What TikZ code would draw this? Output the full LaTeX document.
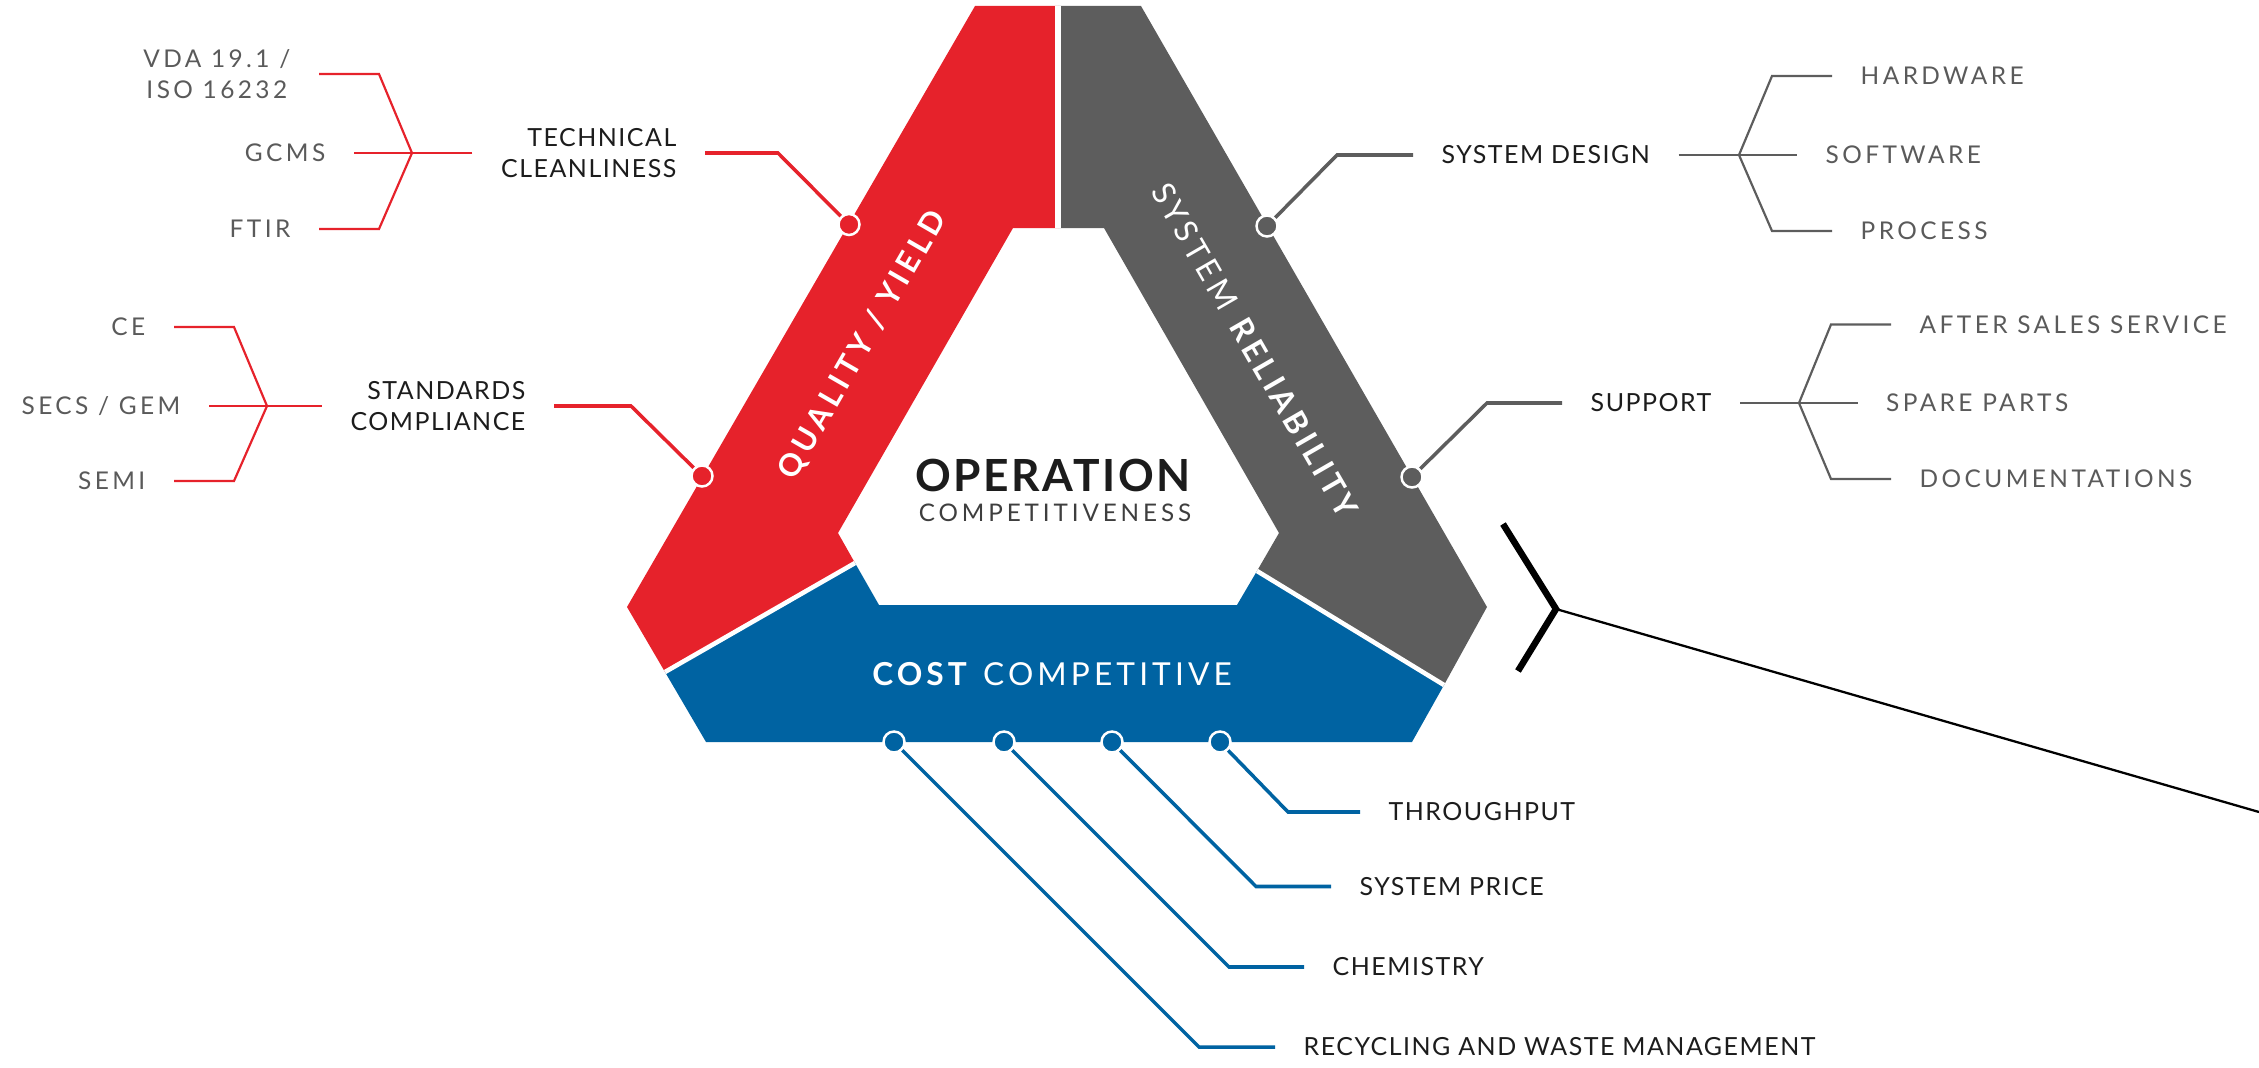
\documentclass[tikz,border=0pt]{standalone}
\usepackage{fontspec}
\setmainfont{Lato}
\newfontfamily\labfont[LetterSpace=6]{Lato}
\newfontfamily\trackfont[LetterSpace=14]{Lato}
\newfontfamily\bandfont[LetterSpace=13]{Lato}
\newfontfamily\qyfont[LetterSpace=15]{Lato}
\newfontfamily\opfont[LetterSpace=6]{Lato}
\newfontfamily\widefont[LetterSpace=16]{Lato}
\usepackage{tikz}
\usetikzlibrary{positioning,calc}
\definecolor{qred}{HTML}{E6222B}
\definecolor{sgray}{HTML}{5D5D5D}
\definecolor{cblue}{HTML}{0063A2}
\definecolor{ink}{HTML}{1C1C1C}
\definecolor{subgray}{HTML}{5A5A5A}

\begin{document}
\begin{tikzpicture}[
  x=1cm, y=-1cm,
  lbl/.style={font={\labfont\fontsize{7.1}{8.8}\selectfont},text=ink,inner xsep=2.8mm,inner ysep=0pt},
  sub/.style={font={\trackfont\fontsize{6.95}{8.8}\selectfont},text=subgray,inner xsep=2.8mm,inner ysep=0pt},
  band/.style={font={\bandfont\fontsize{9}{10}\selectfont},text=white,inner sep=0pt},
  dot/.style={circle,draw=white,line width=0.7pt,minimum size=2.1mm,inner sep=0pt},
  lead/.style={line width=1pt},
  brace/.style={line width=0.62pt},
  cut/.style={draw=white}
]
\useasboundingbox (0,0) rectangle (22.59,10.68);

% the three bands
\fill[qred] (9.75,0.06) -- (10.58,0.06) -- (10.58,2.28) -- (10.13,2.28) -- (8.38,5.33)
  -- (8.55,5.63) -- (6.65,6.72) -- (6.27,6.07) -- cycle;
\fill[sgray] (10.58,0.06) -- (11.41,0.06) -- (14.87,6.07) -- (14.44,6.85) -- (12.57,5.71)
  -- (12.79,5.33) -- (11.04,2.28) -- (10.58,2.28) -- cycle;
\fill[cblue] (8.55,5.63) -- (8.79,6.05) -- (12.37,6.05) -- (12.57,5.71) -- (14.44,6.85)
  -- (14.12,7.42) -- (7.06,7.42) -- (6.65,6.72) -- cycle;
\draw[cut,line width=1.6pt] (10.58,0.06) -- (10.58,2.28);
\draw[cut,line width=1.3pt] (8.55,5.63) -- (6.65,6.72);
\draw[cut,line width=1.3pt] (12.57,5.71) -- (14.44,6.85);

\node[band,rotate=60,font={\qyfont\bfseries\fontsize{8.8}{10}\selectfont}] (qy) at (8.63,3.45) {QUALITY / YIELD};
\node[band,rotate=-60] (sr) at (12.56,3.52) {SYSTEM \textbf{RELIABILITY}};
\node[band] (cc) at (10.52,6.74) {\textbf{COST} COMPETITIVE};
\node[font={\opfont\bfseries\fontsize{12.6}{14}\selectfont},text=ink,inner sep=0pt] (op) at (10.53,4.75) {OPERATION};
\node[font={\widefont\fontsize{6.9}{8}\selectfont},text=ink!85,inner sep=0pt] (cv) at (10.55,5.13) {COMPETITIVENESS};

% quality side
\node[lbl,anchor=east,align=right] (tc) at (7.05,1.53) {TECHNICAL\\CLEANLINESS};
\node[lbl,anchor=east,align=right] (sc) at (5.54,4.06) {STANDARDS\\COMPLIANCE};
\node[sub,anchor=east,align=center] (vda) at (3.19,0.74) {VDA 19.1 /\\ISO 16232};
\node[sub,anchor=east] (gcms) at (3.54,1.53) {GCMS};
\node[sub,anchor=east] (ftir) at (3.19,2.29) {FTIR};
\node[sub,anchor=east] (ce) at (1.74,3.27) {CE};
\node[sub,anchor=east] (secs) at (2.09,4.06) {SECS / GEM};
\node[sub,anchor=east] (semi) at (1.74,4.81) {SEMI};
\coordinate (j1) at (4.12,1.53);
\coordinate (j2) at (2.67,4.06);
\node[dot,fill=qred] (q1) at (8.49,2.245) {};
\node[dot,fill=qred] (q2) at (7.02,4.76) {};
\draw[lead,qred] (tc.east) -- ++(0.73,0) -- (q1);
\draw[lead,qred] (sc.east) -- ++(0.77,0) -- (q2);
\draw[brace,qred] (tc.west) -- (gcms.east);
\draw[brace,qred] (vda.east) -- ++(0.6,0) -- (j1) -- ($(ftir.east)+(0.6,0)$) -- (ftir.east);
\draw[brace,qred] (sc.west) -- (secs.east);
\draw[brace,qred] (ce.east) -- ++(0.6,0) -- (j2) -- ($(semi.east)+(0.6,0)$) -- (semi.east);

% reliability side
\node[lbl,anchor=west] (sd) at (14.13,1.55) {SYSTEM DESIGN};
\node[lbl,anchor=west] (sp) at (15.62,4.03) {SUPPORT};
\node[sub,anchor=west] (hw) at (18.32,0.76) {HARDWARE};
\node[sub,anchor=west] (sw) at (17.97,1.55) {SOFTWARE};
\node[sub,anchor=west] (pr) at (18.32,2.31) {PROCESS};
\node[sub,anchor=west] (as) at (18.91,3.245) {AFTER SALES SERVICE};
\node[sub,anchor=west] (spp) at (18.575,4.03) {SPARE PARTS};
\node[sub,anchor=west] (doc) at (18.91,4.79) {DOCUMENTATIONS};
\coordinate (j3) at (17.39,1.55);
\coordinate (j4) at (17.99,4.03);
\node[dot,fill=sgray] (s1) at (12.67,2.26) {};
\node[dot,fill=sgray] (s2) at (14.12,4.77) {};
\draw[lead,sgray] (sd.west) -- ++(-0.76,0) -- (s1);
\draw[lead,sgray] (sp.west) -- ++(-0.75,0) -- (s2);
\draw[brace,sgray] (sd.east) -- (sw.west);
\draw[brace,sgray] (hw.west) -- ++(-0.6,0) -- (j3) -- ($(pr.west)+(-0.6,0)$) -- (pr.west);
\draw[brace,sgray] (sp.east) -- (spp.west);
\draw[brace,sgray] (as.west) -- ++(-0.6,0) -- (j4) -- ($(doc.west)+(-0.6,0)$) -- (doc.west);

% cost side
\node[lbl,anchor=west] (tp) at (13.60,8.12) {THROUGHPUT};
\node[lbl,anchor=west] (spr) at (13.31,8.865) {SYSTEM PRICE};
\node[lbl,anchor=west] (ch) at (13.04,9.67) {CHEMISTRY};
\node[lbl,anchor=west] (rw) at (12.75,10.47) {RECYCLING AND WASTE MANAGEMENT};
\node[dot,fill=cblue] (c1) at (8.94,7.42) {};
\node[dot,fill=cblue] (c2) at (10.04,7.42) {};
\node[dot,fill=cblue] (c3) at (11.12,7.42) {};
\node[dot,fill=cblue] (c4) at (12.20,7.42) {};
\draw[lead,cblue] (tp.west) -- ++(-0.72,0) -- (c4);
\draw[lead,cblue] (spr.west) -- ++(-0.75,0) -- (c3);
\draw[lead,cblue] (ch.west) -- ++(-0.75,0) -- (c2);
\draw[lead,cblue] (rw.west) -- ++(-0.76,0) -- (c1);

% pointer
\coordinate (k) at (15.56,6.09);
\coordinate (kend) at (22.59,8.12);
\draw[line width=1.85pt] (15.03,5.24) -- (k) -- (15.18,6.71);
\draw[line width=0.65pt] (k) -- (kend);
\end{tikzpicture}
\end{document}
